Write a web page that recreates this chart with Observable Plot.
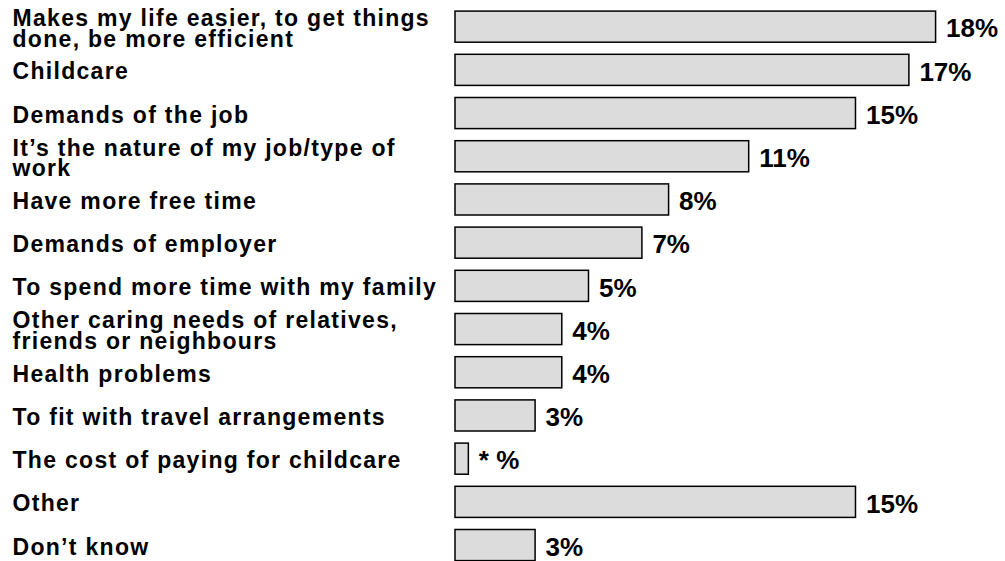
<!DOCTYPE html>
<html>
<head>
<meta charset="utf-8">
<script src="https://cdn.jsdelivr.net/npm/d3@7"></script>
<script src="https://cdn.jsdelivr.net/npm/@observablehq/plot@0.6"></script>
<style>
  html, body { margin: 0; padding: 0; background: #fff; overflow: hidden; }
  #chart svg { display: block; }
</style>
</head>
<body>
<div id="chart"></div>
<script>
const categories = [
  "Makes my life easier, to get things\ndone, be more efficient",
  "Childcare",
  "Demands of the job",
  "It’s the nature of my job/type of\nwork",
  "Have more free time",
  "Demands of employer",
  "To spend more time with my family",
  "Other caring needs of relatives,\nfriends or neighbours",
  "Health problems",
  "To fit with travel arrangements",
  "The cost of paying for childcare",
  "Other",
  "Don’t know"
];
const values = [18, 17, 15, 11, 8, 7, 5, 4, 4, 3, 0.5, 15, 3];
const valueLabels = ["18%", "17%", "15%", "11%", "8%", "7%", "5%", "4%", "4%", "3%", "* %", "15%", "3%"];

const data = categories.map((c, i) => ({category: c, value: values[i], label: valueLabels[i]}));

const chart = Plot.plot({
  width: 1005,
  height: 575,
  marginLeft: 455,
  marginRight: 0,
  marginTop: 0,
  marginBottom: 0,
  x: {domain: [0, 20.6], axis: null},
  y: {domain: categories, axis: null, padding: 0.28, range: [-1, 572.7], round: false},
  style: {fontFamily: "'Liberation Sans', Arial, sans-serif", background: "#fff"},
  marks: [
    Plot.barX(data, {x: "value", y: "category", fill: "#dcdcdc", stroke: "#000", strokeWidth: 1.5}),
    Plot.text(data, {
      y: "category", text: "category", frameAnchor: "left", textAnchor: "start",
      dx: -443, dy: 2.5, fontSize: 23, fontWeight: "bold", fill: "#000", lineHeight: 0.9
    }),
    Plot.text(data, {
      x: "value", y: "category", text: "label", textAnchor: "start", dx: 10, dy: 2,
      fontSize: 26, fontWeight: "bold", fill: "#000"
    })
  ]
});
// tracking on the category labels
d3.select(chart).selectAll("g[aria-label='text']").filter((d, i) => i === 0)
  .attr("letter-spacing", "1.3");
document.getElementById("chart").appendChild(chart);
</script>
</body>
</html>
